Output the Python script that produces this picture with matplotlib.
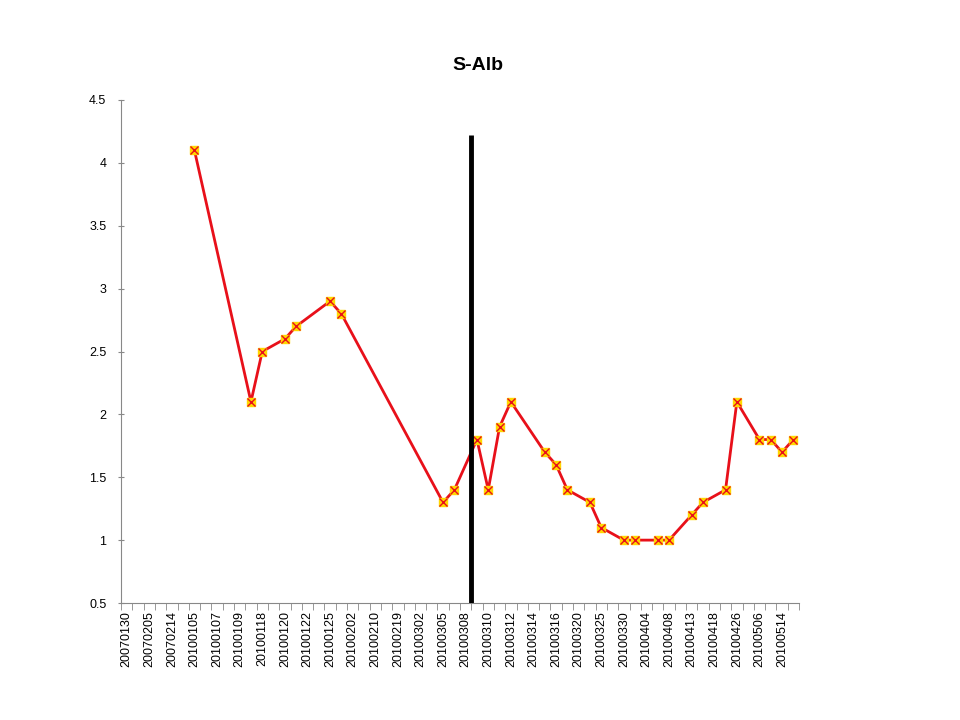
import numpy as np
import matplotlib.pyplot as plt

plt.rcParams['font.family'] = ['Liberation Sans', 'DejaVu Sans']

# tick labels (every other category is labelled)
tick_labels = ['20070130', '20070205', '20070214', '20100105', '20100107',
               '20100109', '20100118', '20100120', '20100122', '20100125',
               '20100202', '20100210', '20100219', '20100302', '20100305',
               '20100308', '20100310', '20100312', '20100314', '20100316',
               '20100320', '20100325', '20100330', '20100404', '20100408',
               '20100413', '20100418', '20100426', '20100506', '20100514']
n_cat = 60

# category index -> S-Alb value
cat_idx = [6, 11, 12, 14, 15, 18, 19, 28, 29, 31, 32, 33, 34, 37, 38, 39,
           41, 42, 44, 45, 47, 48, 50, 51, 53, 54, 56, 57, 58, 59]
values = [4.1, 2.1, 2.5, 2.6, 2.7, 2.9, 2.8, 1.3, 1.4, 1.8, 1.4, 1.9, 2.1,
          1.7, 1.6, 1.4, 1.3, 1.1, 1.0, 1.0, 1.0, 1.0, 1.2, 1.3, 1.4, 2.1,
          1.8, 1.8, 1.7, 1.8]

marker_pos = 30.5   # boundary after 20100308
marker_top = 4.22

fig = plt.figure(figsize=(9.6, 7.2), dpi=100)
ax = fig.add_axes([121/960, 117/720, 678/960, 503/720])

x = np.array(cat_idx)
ax.plot(x, values, color='#e8101a', linewidth=2, zorder=3)
ax.plot(x, values, linestyle='none', marker='s', markersize=6,
        markerfacecolor='#ffd700', markeredgecolor='#ffd700', zorder=4)
ax.plot(x, values, linestyle='none', marker='x', markersize=5.5,
        markeredgecolor='#e8101a', markeredgewidth=1, zorder=5)

ax.plot([marker_pos, marker_pos], [0.5, marker_top], color='black',
        linewidth=3.5, solid_capstyle='butt', zorder=6)

ax.set_xlim(-0.5, n_cat - 0.5)
ax.set_ylim(0.5, 4.5)
ax.set_yticks(np.arange(0.5, 4.51, 0.5))
ax.set_yticklabels(['0.5', '1', '1.5', '2', '2.5', '3', '3.5', '4', '4.5'])
ax.set_xticks(np.arange(0, n_cat, 2))
ax.set_xticklabels(tick_labels, rotation=90)
ax.set_xticks(np.arange(-0.5, n_cat, 1), minor=True)
ax.tick_params(axis='x', which='major', length=0, labelsize=9, pad=6)
ax.tick_params(axis='x', which='minor', length=5, color='#888888', direction='out')
ax.tick_params(axis='y', length=5, color='#888888', direction='inout',
               labelsize=9, pad=8)

for s in ['top', 'right']:
    ax.spines[s].set_visible(False)
for s in ['left', 'bottom']:
    ax.spines[s].set_color('#888888')

fig.text(478/960, 1 - 65/720, 'S-Alb', ha='center', va='center',
         fontsize=14, fontweight='bold')

fig.savefig('out.png', dpi=100)
